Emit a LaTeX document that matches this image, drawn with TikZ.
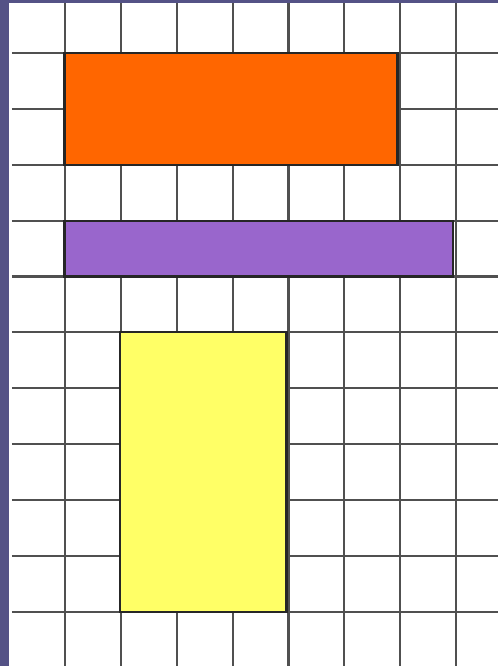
\documentclass[tikz,border=0pt]{standalone}
\definecolor{slateback}{RGB}{84, 82, 134}
\definecolor{gridgray}{RGB}{80, 80, 80}
\definecolor{orangefill}{RGB}{255, 102, 0}
\definecolor{purplefill}{RGB}{153, 102, 204}
\definecolor{yellowfill}{RGB}{255, 255, 102}
\usepackage{tikz}

\begin{document}
\begin{tikzpicture}[
    x=0.993cm, y=1cm,
    gridline/.style={draw=gridgray, line width=1.1pt},
    block/.style={draw=black!85, line width=1.1pt}
  ]
    % background and page size
    \fill[slateback] (-0.162,-0.054) rectangle (8.81,-11.968);
    \useasboundingbox (-0.162,-0.054) rectangle (8.81,-11.968);
    \fill[white] (0,-0.107) rectangle (8.81,-11.968);
    \draw[gridline] (0.05,-0.107) grid (8.81,-11.968);
    % coloured blocks
    \draw[block, fill=orangefill] (1,-1) rectangle (7,-3);
    \draw[block, fill=purplefill] (1,-4) rectangle (8,-5);
    \draw[block, fill=yellowfill] (2,-6) rectangle (5,-11);
  \end{tikzpicture}
\end{document}
